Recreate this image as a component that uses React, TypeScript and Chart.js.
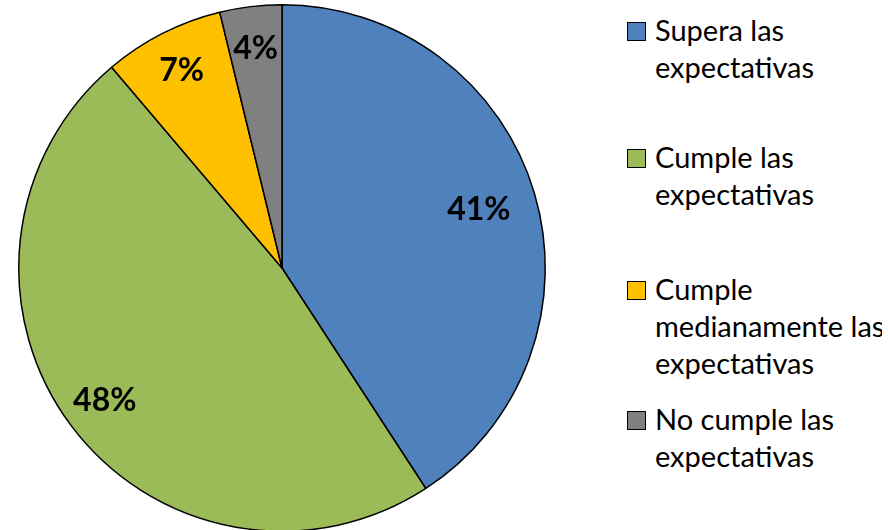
import React, { useEffect, useRef } from "react";
import { Chart, registerables } from "chart.js";

Chart.register(...registerables);

const categories: string[][] = [
  ["Supera las", "expectativas"],
  ["Cumple las", "expectativas"],
  ["Cumple", "medianamente las", "expectativas"],
  ["No cumple las", "expectativas"],
];
const values: number[] = [40.8, 48, 7.4, 3.8];
const colors: string[] = ["#4F81BD", "#9BBB59", "#FFC000", "#808080"];
const legendTops: number[] = [11, 138, 270, 400];

const labelPlugin = {
  id: "pctLabels",
  afterDatasetsDraw(chart: any) {
    const ctx = chart.ctx;
    const meta = chart.getDatasetMeta(0);
    const data = chart.data.datasets[0].data as number[];
    const total = data.reduce((a, b) => a + b, 0);
    ctx.save();
    ctx.fillStyle = "#000";
    ctx.font = "bold 32px Lato, 'Open Sans', sans-serif";
    ctx.textAlign = "center";
    ctx.textBaseline = "middle";
    meta.data.forEach((arc: any, i: number) => {
      const p = arc.getProps(["x", "y", "startAngle", "endAngle", "outerRadius"], true);
      const mid = (p.startAngle + p.endAngle) / 2;
      const r = p.outerRadius * (i === 0 ? 0.78 : 0.84);
      const x = p.x + Math.cos(mid) * r;
      const y = p.y + Math.sin(mid) * r;
      ctx.fillText(Math.round((data[i] / total) * 100) + "%", x, y);
    });
    ctx.restore();
  },
};

export default function App() {
  const ref = useRef<HTMLCanvasElement | null>(null);
  useEffect(() => {
    document.body.style.margin = "0";
    if (!ref.current) return;
    const chart = new Chart(ref.current, {
      type: "pie",
      data: {
        labels: categories.map((c) => c.join(" ")),
        datasets: [
          {
            data: values,
            backgroundColor: colors,
            borderColor: "#000",
            borderWidth: 1.5,
          },
        ],
      },
      options: {
        animation: false,
        responsive: false,
        layout: { padding: { left: 18, right: 18, top: 4, bottom: 0 } },
        plugins: { legend: { display: false }, tooltip: { enabled: false } },
      },
      plugins: [labelPlugin],
    });
    return () => chart.destroy();
  }, []);

  return (
    <div style={{ position: "relative", width: 888, height: 530, overflow: "hidden", background: "#fff" }}>
      <canvas ref={ref} width={564} height={532} style={{ position: "absolute", left: 0, top: 0, width: 564, height: 532 }} />
      {categories.map((lines, i) => (
        <div key={i} style={{ position: "absolute", left: 627, top: legendTops[i], width: 255, overflow: "hidden" }}>
          <div
            style={{
              position: "absolute",
              left: 0,
              top: 11,
              width: 17,
              height: 17,
              background: colors[i],
              border: "1.5px solid #000",
            }}
          />
          <div
            style={{
              marginLeft: 28,
              fontFamily: "Lato, 'Open Sans', sans-serif",
              fontSize: 29,
              lineHeight: "37px",
              color: "#000",
              whiteSpace: "nowrap",
            }}
          >
            {lines.map((l, j) => (
              <div key={j}>{l}</div>
            ))}
          </div>
        </div>
      ))}
    </div>
  );
}
